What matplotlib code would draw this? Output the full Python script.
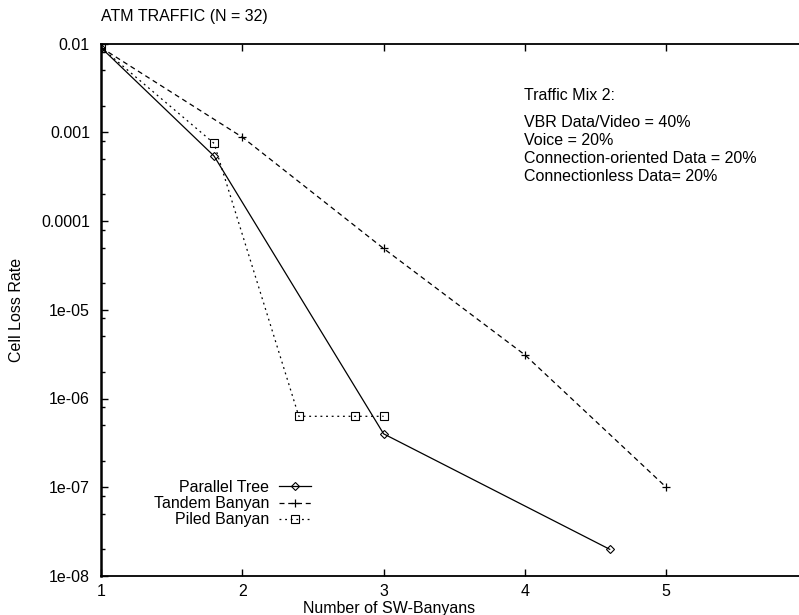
import matplotlib.pyplot as plt
from matplotlib.ticker import LogLocator, NullFormatter, FixedLocator

plt.rcParams['font.family'] = ['Liberation Sans', 'DejaVu Sans']

# cell loss rate vs number of SW-banyans
parallel_x = [1, 1.8, 3, 4.6]
parallel_y = [0.009, 5.4e-4, 4e-7, 2e-8]

tandem_x = [1, 2, 3, 4, 5]
tandem_y = [0.009, 8.8e-4, 4.9e-5, 3.1e-6, 1e-7]

piled_x = [1, 1.8, 2.4, 2.8, 3]
piled_y = [0.009, 7.5e-4, 6.3e-7, 6.3e-7, 6.3e-7]

ytick_vals = [1e-2, 1e-3, 1e-4, 1e-5, 1e-6, 1e-7, 1e-8]
ytick_labels = ['0.01', '0.001', '0.0001', '1e-05', '1e-06', '1e-07', '1e-08']
xtick_vals = [1, 2, 3, 4, 5]

mix_lines = ['VBR Data/Video = 40%', 'Voice = 20%',
             'Connection-oriented Data = 20%', 'Connectionless Data= 20%']

FS = 11.5
W, H = 799, 615
fig = plt.figure(figsize=(W / 100, H / 100), dpi=100)
ax = fig.add_axes([101 / W, 1 - 576 / H, (W - 101) / W, (576 - 43.5) / H])

ax.plot(parallel_x, parallel_y, color='black', lw=0.9, ls='-',
        marker='D', ms=4.5, mfc='none', mew=0.8, label='Parallel Tree')
ax.plot(tandem_x, tandem_y, color='black', lw=0.9, ls=(0, (4, 3)),
        marker='+', ms=6, mew=0.9, label='Tandem Banyan')
ax.plot(piled_x, piled_y, color='black', lw=0.9, ls=(0, (1.5, 3)),
        marker='s', ms=5.2, mfc='none', mew=0.8, label='Piled Banyan')

ax.set_yscale('log')
ax.set_ylim(1e-8, 1e-2)
ax.set_xlim(1, 1 + (W - 101) / 141.3)

ax.yaxis.set_major_locator(FixedLocator(ytick_vals))
ax.set_yticklabels(ytick_labels)
ax.yaxis.set_minor_locator(LogLocator(base=10, subs=[2, 5, 8]))
ax.yaxis.set_minor_formatter(NullFormatter())
ax.set_xticks(xtick_vals)
ax.set_xticklabels([str(v) for v in xtick_vals])

ax.tick_params(axis='y', which='major', direction='in', length=5, width=1,
               labelsize=FS, pad=8, right=False)
ax.tick_params(axis='y', which='minor', direction='in', length=3, width=1,
               right=False)
ax.tick_params(axis='x', which='major', direction='in', length=5, width=1,
               labelsize=FS, pad=6, top=True)
ax.tick_params(axis='x', which='minor', bottom=False, top=False)

ax.spines['right'].set_visible(False)
ax.spines['left'].set_linewidth(1.8)
ax.spines['bottom'].set_linewidth(1.3)
ax.spines['top'].set_linewidth(1.3)

fig.text(101 / W, 1 - 17 / H, 'ATM TRAFFIC (N = 32)', fontsize=FS,
         ha='left', va='center')
fig.text(389 / W, 1 - 608 / H, 'Number of SW-Banyans', fontsize=FS,
         ha='center', va='center')
fig.text(17 / W, 1 - 310 / H, 'Cell Loss Rate', fontsize=FS,
         ha='center', va='center', rotation=90)

fig.text(524 / W, 1 - 96 / H, 'Traffic Mix 2:', fontsize=FS,
         ha='left', va='center')
for i, line in enumerate(mix_lines):
    fig.text(524 / W, 1 - (122.5 + 18 * i) / H, line, fontsize=FS,
             ha='left', va='center')

ax.legend(loc='upper right', bbox_to_anchor=(311 / W, 1 - 480 / H),
          bbox_transform=fig.transFigure, frameon=False, markerfirst=False,
          handlelength=2.0, handletextpad=0.6, labelspacing=0.07,
          borderpad=0, borderaxespad=0, fontsize=FS)

fig.savefig('out.png', dpi=100)
